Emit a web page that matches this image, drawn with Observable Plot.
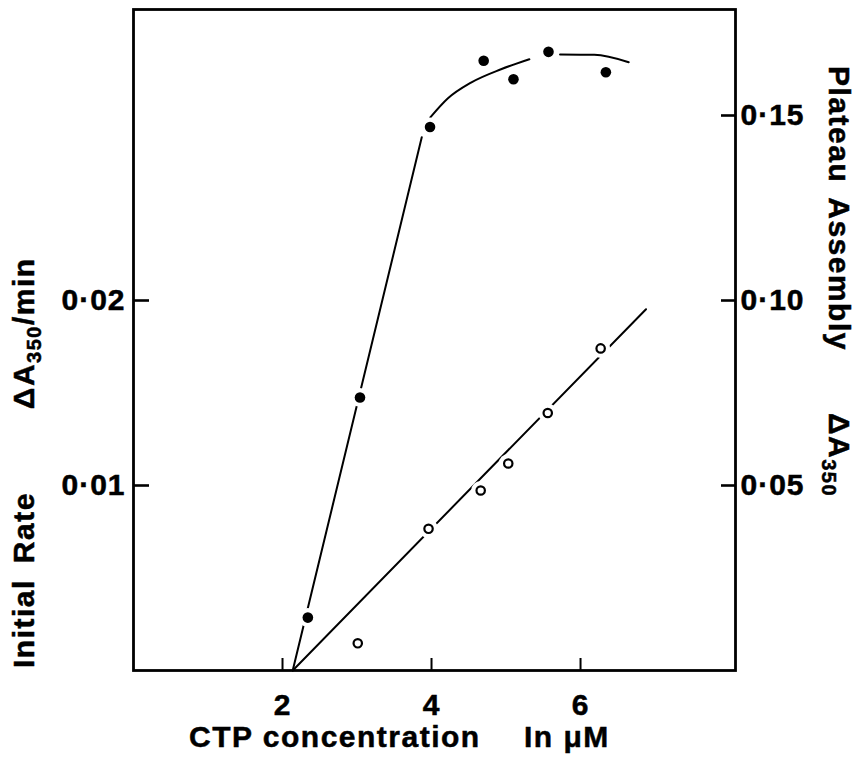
<!DOCTYPE html>
<html>
<head>
<meta charset="utf-8">
<script src="https://cdn.jsdelivr.net/npm/d3@7"></script>
<script src="https://cdn.jsdelivr.net/npm/@observablehq/plot@0.6"></script>
<style>
  html, body { margin: 0; padding: 0; background: #fff; }
  #chart svg { display: block; }
</style>
</head>
<body>
<div id="chart"></div>
<script>
// Plateau assembly (ΔA350, right axis) against CTP concentration (µM) — filled dots
const plateauConc = [2.34, 3.04, 3.98, 4.70, 5.10, 5.57, 6.34];
const plateauA350 = [0.0143, 0.0738, 0.1469, 0.1648, 0.1598, 0.1672, 0.1617];

// Initial rate (ΔA350/min, left axis) against CTP concentration (µM) — open circles
const rateConc = [3.01, 3.96, 4.66, 5.03, 5.56, 6.27];
const rateA350 = [0.00147, 0.00766, 0.00973, 0.01119, 0.01392, 0.01741];

// Hand-drawn curve through the plateau points, drawn in three pieces
const plateauCurvePiece = [0, 0, 1, 1, 1, 1, 1, 2, 2, 2];
const plateauCurveConc = [2.137, 3.869, 3.984, 4.217, 4.530, 4.933, 5.313, 5.725, 6.185, 6.647];
const plateauCurveA350 = [0, 0.1441, 0.1495, 0.1546, 0.1589, 0.1625, 0.1652, 0.1665, 0.1664, 0.1644];

// Straight line through the initial-rate points
const rateLineConc = [2.137, 6.879];
const rateLineA350 = [0, 0.01953];

// Axis ticks
const xTicks = [2, 4, 6];
const rateTicks = [0.01, 0.02];
const plateauTicks = [0.05, 0.10, 0.15];

// The two vertical axes share one scale: 0·02 on the left sits at 0·10 on the right
const RATIO = 5;

const plateauPts = plateauConc.map((c, i) => ({conc: c, y: plateauA350[i]}));
const ratePts = rateConc.map((c, i) => ({conc: c, y: rateA350[i] * RATIO}));
const plateauCurve = plateauCurveConc.map((c, i) => ({conc: c, y: plateauCurveA350[i], piece: plateauCurvePiece[i]}));
const rateLine = rateLineConc.map((c, i) => ({conc: c, y: rateLineA350[i] * RATIO}));

const fmt = v => v.toFixed(2).replace(".", "·");

const W = 860, H = 758;
const mL = 133, mR = 125, mT = 9, mB = 88;
const frameW = W - mL - mR, frameH = H - mT - mB;
const FONT = "'Liberation Sans', Arial, Helvetica, sans-serif";

const svg = Plot.plot({
  width: W,
  height: H,
  marginLeft: mL,
  marginRight: mR,
  marginTop: mT,
  marginBottom: mB,
  style: {fontFamily: FONT, fontWeight: "bold", fontSize: "30px", letterSpacing: "1px", color: "#000", background: "#fff"},
  x: {domain: [0, 8.08]},
  y: {domain: [0, (H - mB - mT) / 3700]},
  marks: [
    // fitted lines
    Plot.line(plateauCurve, {x: "conc", y: "y", z: "piece", curve: "monotone-x", stroke: "#000", strokeWidth: 2}),
    Plot.line(rateLine, {x: "conc", y: "y", stroke: "#000", strokeWidth: 2}),
    // white gaps where the lines pass the points
    Plot.dot(plateauPts, {x: "conc", y: "y", r: 9.5, fill: "white", stroke: "none"}),
    Plot.dot(ratePts, {x: "conc", y: "y", r: 9.5, fill: "white", stroke: "none"}),
    // data points
    Plot.dot(plateauPts, {x: "conc", y: "y", r: 5.3, fill: "black", stroke: "none"}),
    Plot.dot(ratePts, {x: "conc", y: "y", r: 4.2, fill: "white", stroke: "black", strokeWidth: 2.2}),
    // frame and inward ticks
    Plot.frame({stroke: "#000", strokeWidth: 2.8}),
    Plot.ruleX(xTicks, {x: d => d, insetTop: frameH - 12, stroke: "#000", strokeWidth: 2}),
    Plot.ruleY(rateTicks, {y: d => d * RATIO, insetRight: frameW - 16, stroke: "#000", strokeWidth: 2.6}),
    Plot.ruleY(plateauTicks, {y: d => d, insetLeft: frameW - 14, stroke: "#000", strokeWidth: 2.6}),
    // tick labels
    Plot.axisX({ticks: xTicks, tickSize: 0, tickPadding: 23, tickFormat: d => String(d), label: null,
                fontSize: 30, fontWeight: "bold"}),
    Plot.axisY({anchor: "left", ticks: rateTicks.map(d => d * RATIO), tickSize: 0, tickPadding: 8,
                tickFormat: d => fmt(d / RATIO), label: null, fontSize: 30, fontWeight: "bold"}),
    Plot.axisY({anchor: "right", ticks: plateauTicks, tickSize: 0, tickPadding: 5,
                tickFormat: d => fmt(d), label: null, fontSize: 30, fontWeight: "bold"})
  ]
});

document.getElementById("chart").appendChild(svg);

// Axis titles with subscripted A350
const root = d3.select(svg);
function title(x, y, angle, parts) {
  const t = root.append("text")
    .attr("transform", `translate(${x},${y}) rotate(${angle})`)
    .attr("text-anchor", "start")
    .attr("font-family", FONT)
    .attr("font-weight", "bold")
    .attr("font-size", 30)
    .attr("letter-spacing", "1.5px")
    .attr("fill", "#000");
  for (const p of parts) {
    const s = t.append("tspan").text(p.text);
    if (p.dx) s.attr("dx", p.dx);
    if (p.dy) s.attr("dy", p.dy);
    if (p.size) s.attr("font-size", p.size);
  }
}

title(34, 668, -90, [
  {text: "Initial"},
  {text: "Rate", dx: 16},
  {text: "ΔA", dx: 83},
  {text: "350", dy: 7, size: 20},
  {text: "/min", dy: -7}
]);

title(829, 66, 90, [
  {text: "Plateau"},
  {text: "Assembly", dx: 14},
  {text: "ΔA", dx: 62},
  {text: "350", dy: 7, size: 20}
]);

root.append("text")
  .attr("x", 189)
  .attr("y", 747)
  .attr("text-anchor", "start")
  .attr("font-family", FONT)
  .attr("font-weight", "bold")
  .attr("font-size", 30)
  .attr("letter-spacing", "1.5px")
  .attr("fill", "#000")
  .text("CTP concentration")
  .append("tspan")
  .attr("x", 524)
  .text("In μM");

// heavier lettering
root.selectAll("text").attr("stroke", "#000").attr("stroke-width", 0.5);
</script>
</body>
</html>
